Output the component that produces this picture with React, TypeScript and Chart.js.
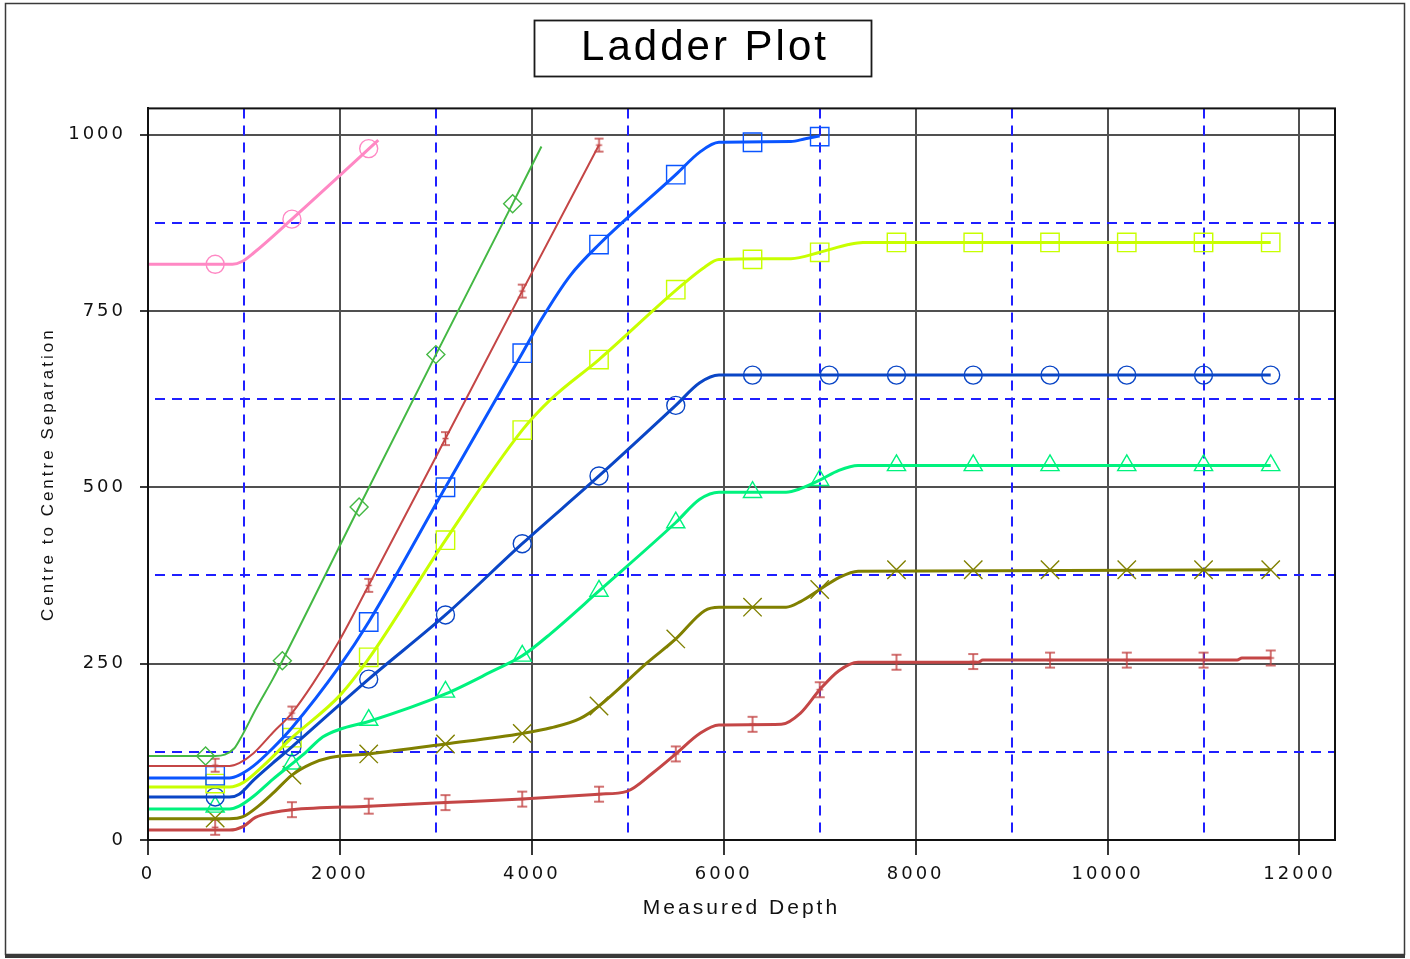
import React, { useEffect, useRef } from 'react';
import { Chart, registerables } from 'chart.js';

Chart.register(...registerables);

type P = [number, number];

// ---- axis ranges, tick labels & guide lines ----
const X_MAX = 12370;
const Y_MAX = 1037;
const xTicks = [0, 2000, 4000, 6000, 8000, 10000, 12000];
const yTicks = [0, 250, 500, 750, 1000];
const minorX = [1000, 3000, 5000, 7000, 9000, 11000];
const minorY = [125, 375, 625, 875];

// ---- series: curve vertices and marker points (Measured Depth, Separation) ----
const pinkLine: P[] = [[0, 816], [880, 816], [980, 820], [1100, 832], [1500, 880], [2000, 942], [2400, 992]];
const pinkMarks: P[] = [[700, 816], [1500, 880], [2300, 980]];

const greenLine: P[] = [[0, 119], [700, 119], [800, 121], [900, 130], [960, 143], [1130, 187], [1300, 228], [1400, 254], [2200, 472], [3000, 688], [3800, 902], [4100, 983]];
const greenMarks: P[] = [[600, 119], [1400, 254], [2200, 472], [3000, 688], [3800, 902]];

const redSteepLine: P[] = [[0, 105], [850, 105], [950, 109], [1100, 123], [1300, 152], [1500, 180], [1720, 222], [2000, 284], [2300, 361], [3100, 569], [3900, 778], [4700, 985]];
const redSteepMarks: P[] = [[700, 106], [1500, 180], [2300, 361], [3100, 569], [3900, 778], [4700, 985]];

const blueLine: P[] = [[0, 88], [850, 88], [950, 92], [1100, 105], [1300, 130], [1500, 159], [2000, 247], [2300, 309], [3100, 500], [3900, 690], [4100, 738], [4400, 800], [4700, 844], [5500, 943], [5750, 975], [5950, 989], [6700, 990], [6850, 994], [7000, 998]];
const blueMarks: P[] = [[700, 91], [1500, 159], [2300, 309], [3100, 500], [3900, 690], [4700, 844], [5500, 943], [6300, 989], [7000, 997]];

const limeLine: P[] = [[0, 75], [850, 75], [1000, 82], [1200, 105], [1500, 145], [2000, 205], [2300, 257], [3100, 425], [3900, 581], [4200, 625], [4700, 681], [5500, 779], [5800, 812], [5950, 823], [6700, 824], [7000, 833], [7300, 844], [7450, 847], [11700, 847]];
const limeMarks: P[] = [[700, 80], [1500, 145], [2300, 259], [3100, 425], [3900, 581], [4700, 681], [5500, 780], [6300, 823], [7000, 833], [7800, 847], [8600, 847], [9400, 847], [10200, 847], [11000, 847], [11700, 847]];

const navyLine: P[] = [[0, 61], [850, 61], [950, 65], [1100, 85], [1300, 109], [1500, 132], [2300, 228], [3100, 319], [3900, 420], [4700, 516], [5500, 616], [5750, 648], [5950, 659], [11700, 659]];
const navyMarks: P[] = [[700, 61], [1500, 132], [2300, 228], [3100, 319], [3900, 420], [4700, 516], [5500, 616], [6300, 659], [7100, 659], [7800, 659], [8600, 659], [9400, 659], [10200, 659], [11000, 659], [11700, 659]];

const springLine: P[] = [[0, 44], [850, 44], [950, 48], [1100, 62], [1300, 86], [1500, 108], [1650, 125], [1820, 146], [2000, 157], [2300, 168], [3100, 207], [3600, 240], [3900, 261], [4200, 293], [4700, 353], [5500, 450], [5750, 483], [5950, 493], [6650, 493], [6800, 498], [7000, 510], [7200, 524], [7400, 531], [11700, 531]];
const springMarks: P[] = [[700, 47], [1500, 108], [2300, 170], [3100, 210], [3900, 261], [4700, 353], [5500, 450], [6300, 493], [7000, 510], [7800, 531], [8600, 531], [9400, 531], [10200, 531], [11000, 531], [11700, 531]];

const oliveLine: P[] = [[0, 30], [850, 30], [990, 33], [1150, 48], [1300, 66], [1500, 92], [1700, 108], [1900, 117], [2300, 122], [3100, 136], [3900, 151], [4200, 159], [4500, 172], [4700, 190], [5200, 251], [5500, 285], [5800, 325], [5950, 330], [6650, 330], [6800, 338], [7000, 355], [7200, 372], [7400, 381], [11700, 383]];
const oliveMarks: P[] = [[700, 31], [1500, 92], [2300, 122], [3100, 136], [3900, 151], [4700, 190], [5500, 285], [6300, 330], [7000, 355], [7800, 383], [8600, 383], [9400, 383], [10200, 383], [11000, 383], [11700, 383]];

const redLowLine: P[] = [[0, 14], [850, 14], [990, 19], [1120, 32], [1300, 39], [1500, 43], [2300, 48], [3100, 53], [3900, 58], [4700, 65], [4990, 69], [5260, 95], [5500, 122], [5750, 151], [5950, 163], [6600, 164], [6800, 180], [7000, 213], [7200, 240], [7400, 252], [8650, 252], [8700, 255], [11350, 255], [11400, 258], [11700, 258]];
const redLowMarks: P[] = [[700, 18], [1500, 43], [2300, 48], [3100, 53], [3900, 58], [4700, 65], [5500, 122], [6300, 164], [7000, 213], [7800, 252], [8600, 253], [9400, 255], [10200, 255], [11000, 255], [11700, 258]];

function makeIBar(color: string, h: number, w: number): HTMLCanvasElement {
  const c = document.createElement('canvas');
  c.width = w + 4;
  c.height = h + 4;
  const g = c.getContext('2d') as CanvasRenderingContext2D;
  g.strokeStyle = color;
  g.lineWidth = 1.5;
  const cx = c.width / 2;
  const top = 2;
  const bot = h + 2;
  const mid = c.height / 2;
  g.beginPath();
  g.moveTo(cx, top); g.lineTo(cx, bot);
  g.moveTo(cx - w / 2, top); g.lineTo(cx + w / 2, top);
  g.moveTo(cx - w / 2, bot); g.lineTo(cx + w / 2, bot);
  g.moveTo(cx - w / 3, mid); g.lineTo(cx + w / 3, mid);
  g.stroke();
  return c;
}

const framePlugin = {
  id: 'ladderFrame',
  beforeDraw(chart: any) {
    const ctx = chart.ctx as CanvasRenderingContext2D;
    ctx.save();
    ctx.fillStyle = '#ffffff';
    ctx.fillRect(0, 0, chart.width, chart.height);
    ctx.strokeStyle = '#3a3a3a';
    ctx.lineWidth = 1.5;
    ctx.strokeRect(5.5, 3.5, 1399, 951);
    ctx.lineWidth = 3;
    ctx.beginPath();
    ctx.moveTo(5, 956.5);
    ctx.lineTo(1405, 956.5);
    ctx.stroke();
    ctx.strokeStyle = '#1a1a1a';
    ctx.lineWidth = 1.8;
    ctx.strokeRect(534.5, 20.5, 337, 56);
    ctx.restore();
    (ctx as any).letterSpacing = '3px';
  },
  beforeDatasetsDraw(chart: any) {
    const ctx = chart.ctx as CanvasRenderingContext2D;
    const a = chart.chartArea;
    const xs = chart.scales.x;
    const ys = chart.scales.y;
    ctx.save();
    ctx.strokeStyle = '#1f1fff';
    ctx.lineWidth = 2;
    ctx.setLineDash([10, 7]);
    for (const v of minorX) {
      const px = Math.round(xs.getPixelForValue(v));
      ctx.beginPath();
      ctx.moveTo(px, a.top);
      ctx.lineTo(px, a.bottom);
      ctx.stroke();
    }
    for (const v of minorY) {
      const py = Math.round(ys.getPixelForValue(v));
      ctx.beginPath();
      ctx.moveTo(a.left + 7, py);
      ctx.lineTo(a.right, py);
      ctx.stroke();
    }
    ctx.restore();
  },
  afterDatasetsDraw(chart: any) {
    const ctx = chart.ctx as CanvasRenderingContext2D;
    const a = chart.chartArea;
    ctx.save();
    ctx.strokeStyle = '#111';
    ctx.lineWidth = 2;
    ctx.strokeRect(a.left, a.top, a.right - a.left, a.bottom - a.top);
    ctx.restore();
  },
};

export default function App() {
  const ref = useRef<HTMLCanvasElement | null>(null);

  useEffect(() => {
    if (!ref.current) return;
    const redBar = makeIBar('#c44646', 15, 10);
    const redBarSmall = makeIBar('#c44646', 13, 9);

    const series = [
      { line: pinkLine, marks: pinkMarks, color: '#ff88c4', width: 3, style: 'circle' as any, r: 9 },
      { line: greenLine, marks: greenMarks, color: '#44b844', width: 2, style: 'rectRot' as any, r: 9 },
      { line: redSteepLine, marks: redSteepMarks, color: '#c44646', width: 2, style: redBarSmall as any, r: 6 },
      { line: blueLine, marks: blueMarks, color: '#0a55ff', width: 3, style: 'rect' as any, r: 13 },
      { line: limeLine, marks: limeMarks, color: '#c8ff00', width: 3, style: 'rect' as any, r: 13 },
      { line: navyLine, marks: navyMarks, color: '#0a46c6', width: 3, style: 'circle' as any, r: 9 },
      { line: springLine, marks: springMarks, color: '#00f27e', width: 3, style: 'triangle' as any, r: 10.5 },
      { line: oliveLine, marks: oliveMarks, color: '#808000', width: 3, style: 'crossRot' as any, r: 13 },
      { line: redLowLine, marks: redLowMarks, color: '#c44646', width: 3, style: redBar as any, r: 6 },
    ];

    const datasets: any[] = [];
    for (const s of series) {
      datasets.push({
        data: s.line.map(([x, y]) => ({ x, y })),
        borderColor: s.color,
        borderWidth: s.width,
        pointRadius: 0,
        pointHoverRadius: 0,
        cubicInterpolationMode: 'monotone',
        fill: false,
        showLine: true,
      });
    }
    for (const s of series) {
      datasets.push({
        data: s.marks.map(([x, y]) => ({ x, y })),
        showLine: false,
        pointStyle: s.style,
        pointRadius: s.r,
        pointHoverRadius: s.r,
        pointBorderWidth: 1.4,
        borderColor: s.color,
        pointBorderColor: s.color,
        backgroundColor: 'rgba(0,0,0,0)',
        pointBackgroundColor: 'rgba(0,0,0,0)',
      });
    }

    const tickFont = { family: 'DejaVu Sans', size: 18 };

    const chart = new Chart(ref.current, {
      type: 'line',
      data: { datasets },
      plugins: [framePlugin],
      options: {
        animation: false,
        responsive: false,
        devicePixelRatio: 1,
        events: [],
        layout: { padding: 0 },
        plugins: {
          legend: { display: false },
          tooltip: { enabled: false },
          title: {
            display: true,
            text: 'Ladder Plot',
            color: '#000',
            font: { family: 'Liberation Sans', size: 42, weight: 'normal' as any, lineHeight: 1.2 },
            padding: { top: 23, bottom: 35 },
          },
        },
        scales: {
          x: {
            type: 'linear',
            min: 0,
            max: X_MAX,
            afterFit: (s: any) => { s.height = 119; },
            afterBuildTicks: (s: any) => { s.ticks = xTicks.map((v) => ({ value: v })); },
            ticks: {
              autoSkip: false,
              maxRotation: 0,
              color: '#111',
              font: tickFont,
              padding: 9,
              z: 1,
              callback: (v: any) => String(v),
            },
            grid: { color: '#505050', lineWidth: 2, tickLength: 15, tickColor: '#222', tickWidth: 1.8 },
            border: { color: '#111', width: 2 },
            title: {
              display: true,
              text: 'Measured Depth',
              color: '#111',
              font: { family: 'Liberation Sans', size: 21, lineHeight: 1.2 },
              padding: { top: 0, bottom: 38 },
            },
          },
          y: {
            type: 'linear',
            min: 0,
            max: Y_MAX,
            afterFit: (s: any) => { s.width = 148; },
            afterBuildTicks: (s: any) => { s.ticks = yTicks.map((v) => ({ value: v })); },
            ticks: {
              color: '#111',
              font: tickFont,
              padding: 14,
              z: 1,
              callback: (v: any) => String(v),
            },
            grid: { color: '#505050', lineWidth: 2, tickLength: 8, tickColor: '#222', tickWidth: 1.8 },
            border: { color: '#111', width: 2 },
            title: {
              display: true,
              text: 'Centre to Centre Separation',
              color: '#111',
              font: { family: 'Liberation Sans', size: 17, lineHeight: 1.2 },
              padding: { top: 38, bottom: 0 },
            },
          },
          yRight: {
            type: 'linear',
            position: 'right',
            min: 0,
            max: Y_MAX,
            display: true,
            afterFit: (s: any) => { s.width = 75; },
            ticks: { display: false },
            grid: { display: false, drawOnChartArea: false, drawTicks: false },
            border: { display: false },
            title: { display: false },
          },
        },
      } as any,
    });

    return () => chart.destroy();
  }, []);

  return (
    <div style={{ position: 'fixed', left: 0, top: 0, width: 1410, height: 959, background: '#fff' }}>
      <canvas ref={ref} width={1410} height={959} style={{ display: 'block', width: 1410, height: 959 }} />
    </div>
  );
}
